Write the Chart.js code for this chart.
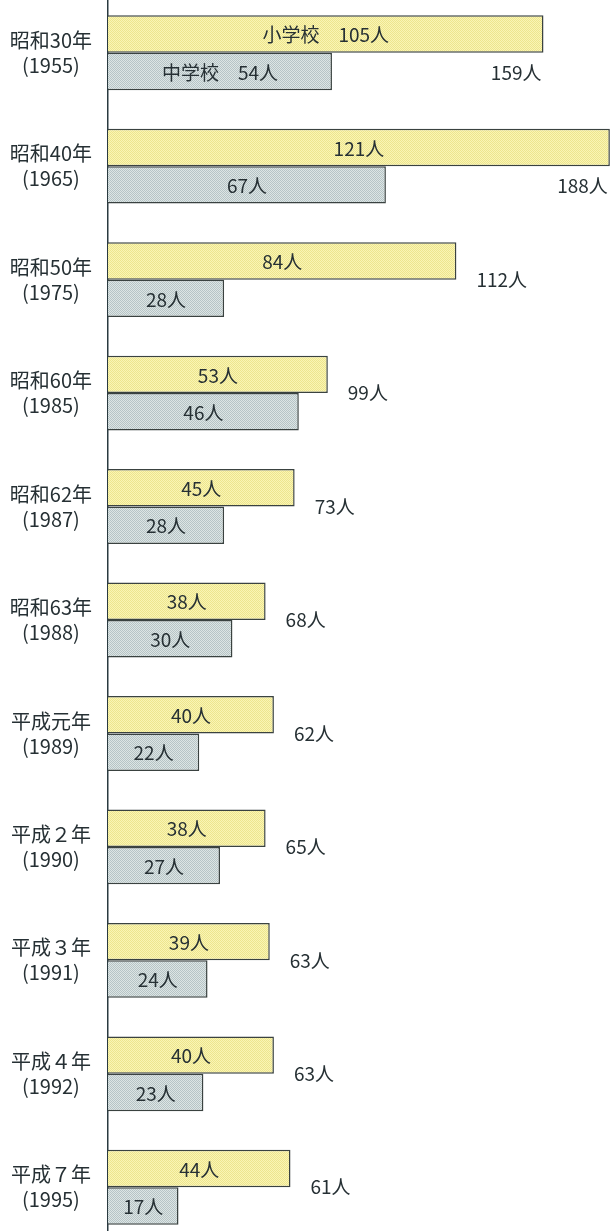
<!DOCTYPE html>
<html>
<head>
<meta charset="utf-8">
<script src="https://cdn.jsdelivr.net/npm/chart.js@4/dist/chart.umd.min.js"></script>
<style>
  html, body { margin: 0; padding: 0; background: #fff; overflow: hidden; }
  #wrap { position: absolute; left: 0; top: -4px; width: 614px; height: 1248px; }
</style>
</head>
<body>
<div id="wrap"><canvas id="chart" width="614" height="1248"></canvas></div>
<script>
// data
const years = [
    ['昭和30年', '(1955)'], ['昭和40年', '(1965)'], ['昭和50年', '(1975)'],
    ['昭和60年', '(1985)'], ['昭和62年', '(1987)'], ['昭和63年', '(1988)'],
    ['平成元年', '(1989)'], ['平成２年', '(1990)'], ['平成３年', '(1991)'],
    ['平成４年', '(1992)'], ['平成７年', '(1995)']
];
const shogakko = [105, 121, 84, 53, 45, 38, 40, 38, 39, 40, 44];
const chugakko = [54, 67, 28, 46, 28, 30, 22, 27, 24, 23, 17];
const goukei = [159, 188, 112, 99, 73, 68, 62, 65, 63, 63, 61];

const FONT = "'Noto Sans CJK JP', 'Noto Sans', sans-serif";
const TEXT = '#263034';

function makePattern(c1, c2) {
    let p = document.createElement('canvas');
    p.width = 2; p.height = 2;
    let g = p.getContext('2d');
    g.fillStyle = c1; g.fillRect(0, 0, 2, 2);
    g.fillStyle = c2; g.fillRect(0, 0, 1, 1); g.fillRect(1, 1, 1, 1);
    return g.createPattern(p, 'repeat');
}
const ctx = document.getElementById('chart').getContext('2d');
const yellow = makePattern('#faf5b4', '#ede58e');
const gray = makePattern('#dde5e4', '#b6c4c6');

// labels inside bars and totals to the right
const labelPlugin = {
    id: 'labels',
    afterDatasetsDraw(chart) {
        const c = chart.ctx;
        const xs = chart.scales.x;
        const m0 = chart.getDatasetMeta(0);
        const m1 = chart.getDatasetMeta(1);
        c.save();
        c.font = '19px ' + FONT;
        c.fillStyle = TEXT;
        c.textBaseline = 'middle';
        for (let i = 0; i < years.length; i++) {
            let b0 = m0.data[i], b1 = m1.data[i];
            let t0 = shogakko[i] + '人', t1 = chugakko[i] + '人';
            if (i == 0) { t0 = '小学校　' + t0; t1 = '中学校　' + t1; }
            c.textAlign = 'center';
            c.fillText(t0, (b0.base + b0.x) / 2, b0.y + 1);
            c.fillText(t1, (b1.base + b1.x) / 2, b1.y + 1);
            let end = Math.max(xs.getPixelForValue(shogakko[i]), xs.getPixelForValue(chugakko[i]));
            if (end > 500) {
                c.textAlign = 'right';
                c.fillText(goukei[i] + '人', end - 2, b1.y + 1);
            } else {
                c.textAlign = 'left';
                c.fillText(goukei[i] + '人', end + 20, (b0.y + b1.y) / 2);
            }
        }
        c.restore();
    }
};

new Chart(ctx, {
    type: 'bar',
    data: {
        labels: years,
        datasets: [{
            label: '小学校',
            data: shogakko,
            backgroundColor: yellow,
            borderColor: '#3a4240',
            borderWidth: 1.5,
            categoryPercentage: 0.66,
            barPercentage: 1
        }, {
            label: '中学校',
            data: chugakko,
            backgroundColor: gray,
            borderColor: '#3a4240',
            borderWidth: 1.5,
            categoryPercentage: 0.66,
            barPercentage: 1
        }]
    },
    options: {
        indexAxis: 'y',
        responsive: false,
        animation: false,
        layout: { padding: 0 },
        plugins: { legend: { display: false }, tooltip: { enabled: false } },
        scales: {
            x: { display: false, min: 0, max: 122 },
            y: {
                grid: { display: false, drawTicks: false },
                border: { display: true, color: '#2a3a40', width: 1.5 },
                afterFit: (scale) => {
                    scale.width = 108;
                    scale.paddingTop = 0;
                    scale.paddingBottom = 0;
                },
                ticks: {
                    crossAlign: 'center',
                    padding: 16,
                    color: TEXT,
                    font: { family: FONT, size: 20, lineHeight: 1.25 }
                }
            }
        }
    },
    plugins: [labelPlugin]
});
</script>
</body>
</html>
